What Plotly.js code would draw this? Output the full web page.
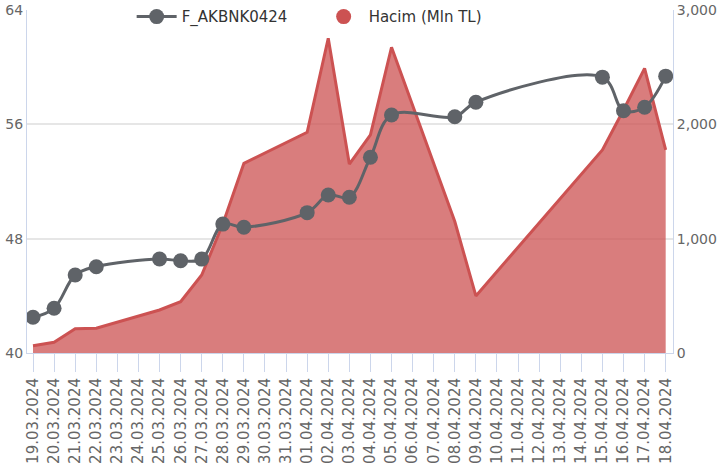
<!DOCTYPE html>
<html>
<head>
<meta charset="utf-8">
<script src="https://cdn.plot.ly/plotly-3.0.1.min.js"></script>
<style>html,body{margin:0;padding:0;background:#fff;}#chart{width:719px;height:467px;}</style>
</head>
<body>
<div id="chart"></div>
<script>
const dates = ['2024-03-19','2024-03-20','2024-03-21','2024-03-22','2024-03-25','2024-03-26','2024-03-27','2024-03-28','2024-03-29','2024-04-01','2024-04-02','2024-04-03','2024-04-04','2024-04-05','2024-04-08','2024-04-09','2024-04-15','2024-04-16','2024-04-17','2024-04-18'];
const price = [42.5, 43.13, 45.46, 46.04, 46.58, 46.46, 46.57, 49.02, 48.8, 49.82, 51.06, 50.9, 53.7, 56.65, 56.53, 57.55, 59.3, 56.95, 57.2, 59.37];
const volume = [64, 94, 212, 216, 376, 449, 682, 1128, 1659, 1930, 2753, 1653, 1907, 2674, 1150, 499, 1776, 2125, 2490, 1776];
const priceName = 'F_AKBNK0424';
const volumeName = 'Hacim (Mln TL)';
const priceTicks = [40, 48, 56, 64];
const volumeTicks = [0, 1000, 2000, 3000];

const font = 'DejaVu Sans, Verdana, sans-serif';
const red = 'rgb(204,82,82)';
const gray = '#5f6368';

const data = [
  {x: dates, y: price, name: priceName, type: 'scatter', mode: 'lines+markers', yaxis: 'y2',
   line: {color: gray, width: 3, shape: 'spline', smoothing: 1}, marker: {color: gray, size: 15}, hoverinfo: 'skip'},
  {x: [null], y: [null], name: volumeName, type: 'scatter', mode: 'markers', yaxis: 'y',
   marker: {color: red, size: 15}, hoverinfo: 'skip'},
  {x: dates, y: volume, name: volumeName, type: 'scatter', mode: 'lines', fill: 'tozeroy', yaxis: 'y',
   line: {color: red, width: 3}, fillcolor: 'rgba(204,82,82,0.75)', showlegend: false, hoverinfo: 'skip'}
];

const layout = {
  width: 719, height: 467,
  margin: {l: 27, r: 46, t: 10, b: 114, autoexpand: false},
  paper_bgcolor: '#fff', plot_bgcolor: '#fff',
  font: {family: font, color: '#666666', size: 14},
  showlegend: true,
  legend: {orientation: 'h', x: 0.162, xanchor: 'left', y: 0.98, yanchor: 'middle', itemwidth: 40,
           font: {family: font, size: 15, color: '#333333'}, entrywidth: 132, bgcolor: 'rgba(0,0,0,0)'},
  xaxis: {type: 'date', range: ['2024-03-18 17:10', '2024-04-18 08:20'], dtick: 86400000,
          tick0: '2024-03-19', tickformat: '%d.%m.%Y', tickangle: -90, showgrid: false,
          showline: true, linecolor: '#ccd6eb', linewidth: 1, ticks: 'outside', ticklen: 18,
          tickcolor: '#ccd6eb', tickwidth: 1, tickfont: {size: 15, color: '#666666'}, zeroline: false, fixedrange: true, automargin: false},
  yaxis: {side: 'right', range: [0, 3000], tickvals: volumeTicks, tickformat: ',', showgrid: false,
          showline: true, linecolor: '#ccd6eb', linewidth: 1, zeroline: false, ticks: '',
          tickfont: {size: 14, color: '#666666'}, fixedrange: true, automargin: false},
  yaxis2: {side: 'left', overlaying: 'y', range: [40, 64], tickvals: priceTicks, showgrid: true,
           gridcolor: '#e6e6e6', gridwidth: 2, showline: true, linecolor: '#ccd6eb', linewidth: 1,
           zeroline: false, ticks: '', tickfont: {size: 14, color: '#666666'}, fixedrange: true, automargin: false}
};

Plotly.newPlot('chart', data, layout, {displayModeBar: false, staticPlot: true});
</script>
</body>
</html>
